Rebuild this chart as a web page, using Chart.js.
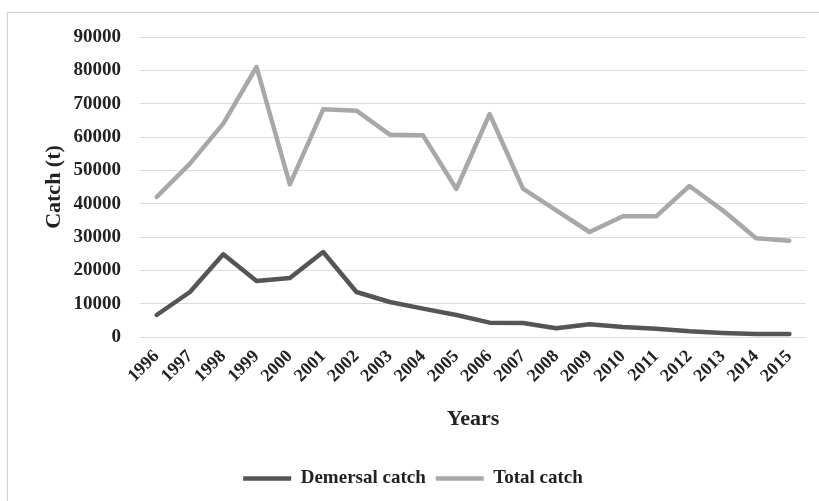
<!DOCTYPE html>
<html>
<head>
<meta charset="utf-8">
<script src="https://cdn.jsdelivr.net/npm/chart.js@4/dist/chart.umd.min.js"></script>
<style>
    html, body { margin: 0; padding: 0; background: #fff; }
    body { width: 819px; height: 501px; position: relative; overflow: hidden; }
    .frame {
        position: absolute; left: 7px; top: 12px; width: 830px; height: 520px;
        border: 1px solid #d4d4d4; box-shadow: 0 0 2px rgba(0,0,0,0.12);
    }
    .wrap { position: absolute; left: 0; top: 0; width: 819px; height: 501px; }
</style>
</head>
<body>
<div class="frame"></div>
<div class="wrap"><canvas id="chart" width="819" height="501"></canvas></div>
<script>
// Chart data
const years = ['1996', '1997', '1998', '1999', '2000', '2001', '2002', '2003', '2004', '2005',
    '2006', '2007', '2008', '2009', '2010', '2011', '2012', '2013', '2014', '2015'];
const demersalCatch = [6600, 13500, 24800, 16800, 17700, 25500, 13500, 10500, 8500, 6600,
    4300, 4200, 2600, 3800, 3000, 2500, 1700, 1200, 900, 900];
const totalCatch = [42000, 52000, 64000, 81000, 45800, 68300, 67900, 60700, 60500, 44400,
    66900, 44500, 38000, 31500, 36200, 36200, 45300, 38000, 29600, 28900];
const yTicks = { min: 0, max: 90000, step: 10000 };

const serif = '"Liberation Serif", "Times New Roman", serif';
const textColor = '#222';

const lineStyle = (color) => ({
    borderColor: color,
    backgroundColor: color,
    borderWidth: 4.5,
    pointRadius: 0,
    pointHoverRadius: 0,
    tension: 0,
    borderJoinStyle: 'round',
    borderCapStyle: 'round',
    fill: false
});

new Chart(document.getElementById('chart'), {
    type: 'line',
    data: {
        labels: years,
        datasets: [
            { label: 'Demersal catch', data: demersalCatch, ...lineStyle('#555555') },
            { label: 'Total catch', data: totalCatch, ...lineStyle('#a8a8a8') }
        ]
    },
    options: {
        responsive: false,
        animation: false,
        layout: { padding: { left: 20, right: 13, top: 37, bottom: 3 } },
        plugins: {
            tooltip: { enabled: false },
            legend: {
                position: 'bottom',
                labels: {
                    usePointStyle: true,
                    pointStyle: 'line',
                    pointStyleWidth: 48,
                    padding: 10,
                    color: textColor,
                    font: { family: serif, size: 19, weight: 'bold' }
                }
            }
        },
        scales: {
            x: {
                offset: true,
                grid: { display: false, drawTicks: false },
                border: { display: false },
                ticks: {
                    autoSkip: false,
                    minRotation: 45,
                    maxRotation: 45,
                    padding: 9,
                    color: textColor,
                    font: { family: serif, size: 18, weight: 'bold' }
                },
                title: {
                    display: true,
                    text: 'Years',
                    color: textColor,
                    padding: { top: 4, bottom: 26 },
                    font: { family: serif, size: 22, weight: 'bold' }
                },
                afterFit: (scale) => { scale.height = 122; }
            },
            y: {
                min: yTicks.min,
                max: yTicks.max,
                grid: { color: '#dcdcdc', lineWidth: 1, drawTicks: false },
                border: { display: false },
                ticks: {
                    stepSize: yTicks.step,
                    padding: 19,
                    color: textColor,
                    font: { family: serif, size: 19, weight: 'bold' },
                    callback: (v) => String(v)
                },
                title: {
                    display: true,
                    text: 'Catch (t)',
                    color: textColor,
                    padding: { top: 21, bottom: 4 },
                    font: { family: serif, size: 22, weight: 'bold' }
                },
                afterFit: (scale) => { scale.width = 120; }
            }
        }
    }
});
</script>
</body>
</html>
